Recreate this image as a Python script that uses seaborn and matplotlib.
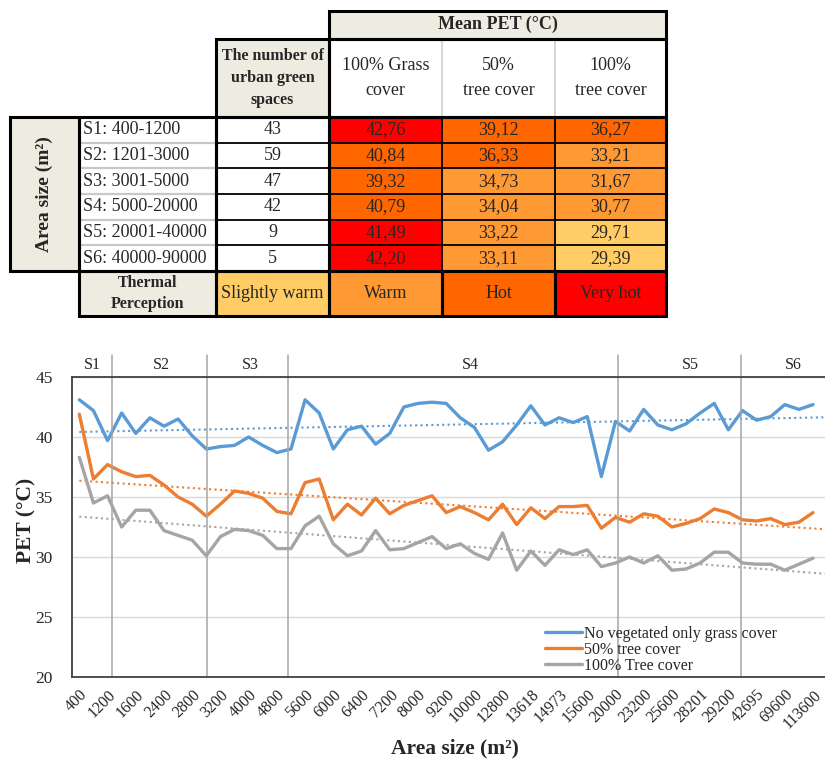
import numpy as np
import pandas as pd
import matplotlib
matplotlib.use('Agg')
import matplotlib.pyplot as plt
import matplotlib.transforms as mtransforms
from matplotlib.patches import Rectangle
import seaborn as sns

# ---- table data ----
size_classes = ["S1: 400-1200", "S2: 1201-3000", "S3: 3001-5000",
                "S4: 5000-20000", "S5: 20001-40000", "S6: 40000-90000"]
n_spaces = [43, 59, 47, 42, 9, 5]
pet_grass = [42.76, 40.84, 39.32, 40.79, 41.49, 42.20]
pet_tree50 = [39.12, 36.33, 34.73, 34.04, 33.22, 33.11]
pet_tree100 = [36.27, 33.21, 31.67, 30.77, 29.71, 29.39]
# thermal perception class of each cell (0 slightly warm .. 3 very hot)
lvl_grass = [3, 2, 2, 2, 3, 3]
lvl_tree50 = [2, 2, 1, 1, 1, 1]
lvl_tree100 = [2, 1, 1, 1, 0, 0]
perception = ["Slightly warm", "Warm", "Hot", "Very hot"]
perception_colors = ["#ffcc66", "#ff9933", "#ff6600", "#ff0000"]
col_headers = ["100% Grass\ncover", "50%\ntree cover", "100%\ntree cover"]

# ---- line chart data ----
tick_labels = ["400", "1200", "1600", "2400", "2800", "3200", "4000", "4800",
               "5600", "6000", "6400", "7200", "8000", "9200", "10000", "12800",
               "13618", "14973", "15600", "20000", "23200", "25600", "28201",
               "29200", "42695", "69600", "113600"]
pet_no_veg = [43.1, 42.2, 39.7, 42.0, 40.3, 41.6, 40.9, 41.5, 40.1, 39.0,
              39.2, 39.3, 40.0, 39.3, 38.7, 39.0, 43.1, 42.0, 39.0, 40.6,
              40.9, 39.4, 40.3, 42.5, 42.8, 42.9, 42.8, 41.6, 40.8, 38.9,
              39.6, 41.0, 42.6, 41.0, 41.6, 41.2, 41.7, 36.7, 41.3, 40.5,
              42.3, 41.0, 40.6, 41.1, 42.0, 42.8, 40.6, 42.2, 41.4, 41.7,
              42.7, 42.3, 42.7]
pet_50 = [41.9, 36.5, 37.7, 37.1, 36.7, 36.8, 36.0, 35.0, 34.4, 33.4,
          34.4, 35.5, 35.3, 34.9, 33.8, 33.6, 36.2, 36.5, 33.1, 34.4,
          33.5, 34.9, 33.6, 34.3, 34.7, 35.1, 33.7, 34.2, 33.7, 33.1,
          34.4, 32.7, 34.1, 33.2, 34.2, 34.2, 34.3, 32.4, 33.3, 32.9,
          33.6, 33.4, 32.5, 32.8, 33.2, 34.0, 33.7, 33.1, 33.0, 33.2,
          32.7, 32.9, 33.7]
pet_100 = [38.3, 34.5, 35.1, 32.5, 33.9, 33.9, 32.2, 31.8, 31.4, 30.1,
           31.7, 32.3, 32.2, 31.8, 30.7, 30.7, 32.6, 33.4, 31.1, 30.1,
           30.5, 32.2, 30.6, 30.7, 31.2, 31.7, 30.7, 31.1, 30.3, 29.8,
           32.0, 28.9, 30.5, 29.3, 30.6, 30.2, 30.6, 29.2, 29.5, 30.0,
           29.5, 30.1, 28.9, 29.0, 29.5, 30.4, 30.4, 29.5, 29.4, 29.4,
           28.9, 29.4, 29.9]
series_names = ["No vegetated only grass cover", "50% tree cover", "100% Tree cover"]
series_colors = ["#5b9bd5", "#ed7d31", "#a5a5a5"]
section_names = ["S1", "S2", "S3", "S4", "S5", "S6"]
section_label_x = [0.9, 5.8, 12.1, 27.7, 43.3, 50.6]
section_bounds = [2.3, 9.05, 14.8, 38.2, 46.9]

sns.set_style("white")
plt.rcParams['font.family'] = ['Liberation Serif', 'DejaVu Serif']

fig = plt.figure(figsize=(8.25, 7.6), dpi=100)

# ================= table (drawn in pixel coordinates) =================
tab = fig.add_axes([0, 0, 1, 1])
tab.set_xlim(0, 825)
tab.set_ylim(760, 0)
tab.axis('off')
tab.patch.set_visible(False)

beige = "#eeece1"
cx = [10, 79, 216, 329, 442, 555, 666]
ry = [11, 38.5, 117] + list(np.linspace(117, 271, 7)[1:]) + [316]


def cell(x0, x1, y0, y1, fc, txt="", **kw):
    tab.add_patch(Rectangle((x0, y0), x1 - x0, y1 - y0, facecolor=fc, edgecolor="none"))
    if txt:
        tab.text((x0 + x1) / 2, (y0 + y1) / 2, txt, ha="center", va="center", **kw)


def box(x0, x1, y0, y1, lw=2.2, color="black"):
    tab.add_patch(Rectangle((x0, y0), x1 - x0, y1 - y0, fill=False,
                            edgecolor=color, lw=lw, zorder=5))


def hline(x0, x1, y, color, lw):
    tab.plot([x0, x1], [y, y], color=color, lw=lw, zorder=4, solid_capstyle="butt")


def vline(x, y0, y1, color, lw):
    tab.plot([x, x], [y0, y1], color=color, lw=lw, zorder=4, solid_capstyle="butt")


# headers
cell(cx[3], cx[6], ry[0], ry[1], beige, "Mean PET (°C)", fontsize=13, fontweight="bold")
box(cx[3], cx[6], ry[0], ry[1])
cell(cx[2], cx[3], ry[1], ry[2], beige, "The number of\nurban green\nspaces",
     fontsize=11.5, fontweight="bold", linespacing=1.5)
box(cx[2], cx[3], ry[1], ry[2])
for j, h in enumerate(col_headers):
    cell(cx[3 + j], cx[4 + j], ry[1], ry[2], "white", h, fontsize=13, linespacing=1.65)
for j in (4, 5):
    vline(cx[j], ry[1], ry[2], "#cfcfcf", 1.2)
box(cx[3], cx[6], ry[1], ry[2])

# area-size label column
cell(cx[0], cx[1], ry[2], ry[8], beige)
tab.text((cx[0] + cx[1]) / 2, (ry[2] + ry[8]) / 2, "Area size (m²)", rotation=90,
         ha="center", va="center", fontsize=14, fontweight="bold")
box(cx[0], cx[1], ry[2], ry[8])

# data rows
cols = [pet_grass, pet_tree50, pet_tree100]
lvls = [lvl_grass, lvl_tree50, lvl_tree100]
for i in range(len(size_classes)):
    y0, y1 = ry[2 + i], ry[3 + i]
    cell(cx[1], cx[2], y0, y1, "white")
    tab.text(cx[1] + 4, (y0 + y1) / 2, size_classes[i], ha="left", va="center", fontsize=13)
    cell(cx[2], cx[3], y0, y1, "white", str(n_spaces[i]), fontsize=13)
    for j in range(3):
        cell(cx[3 + j], cx[4 + j], y0, y1, perception_colors[lvls[j][i]],
             f"{cols[j][i]:.2f}".replace(".", ","), fontsize=13)
    if i > 0:
        hline(cx[1], cx[2], y0, "#c8c8c8", 1.6)
        hline(cx[2], cx[6], y0, "black", 1.3)
for j in (4, 5):
    vline(cx[j], ry[2], ry[8], "black", 1.3)
box(cx[1], cx[2], ry[2], ry[8])
box(cx[2], cx[3], ry[2], ry[8])
box(cx[3], cx[6], ry[2], ry[8])

# thermal perception row
cell(cx[1], cx[2], ry[8], ry[9], beige, "Thermal\nPerception", fontsize=11.5,
     fontweight="bold", linespacing=1.4)
box(cx[1], cx[2], ry[8], ry[9])
for k, p in enumerate(perception):
    cell(cx[2 + k], cx[3 + k], ry[8], ry[9], perception_colors[k], p, fontsize=13)
    box(cx[2 + k], cx[3 + k], ry[8], ry[9])

# ================= line chart =================
W, H = 825, 760
ax = fig.add_axes([72 / W, (H - 677) / H, (825 - 72) / W, 300 / H])

x = np.arange(len(pet_no_veg))
df = pd.DataFrame({
    "idx": np.tile(x, 3),
    "PET": np.concatenate([pet_no_veg, pet_50, pet_100]),
    "series": np.repeat(series_names, len(x)),
})
sns.lineplot(data=df, x="idx", y="PET", hue="series", palette=series_colors,
             linewidth=2.4, ax=ax, legend=True)

# linear trend lines (dotted)
xt = np.array([0, 52.85])
for vals, c in zip([pet_no_veg, pet_50, pet_100], series_colors):
    k, b = np.polyfit(x, vals, 1)
    ax.plot(xt, k * xt + b, color=c, lw=1.5, ls=(0, (1, 1.6)), zorder=1)

ax.set_xlim(-0.52, 52.85)
ax.set_ylim(20, 45)
ax.set_yticks([20, 25, 30, 35, 40, 45])
ax.set_xticks(x[::2])
ax.set_xticklabels(tick_labels, rotation=45, ha="right", rotation_mode="anchor")
ax.tick_params(axis="y", length=0, pad=14, labelsize=12.5)
ax.tick_params(axis="x", length=0, pad=7, labelsize=11.5)
ax.yaxis.grid(True, color="#d9d9d9", lw=1)
ax.set_axisbelow(True)
for s in ["left", "bottom", "top"]:
    ax.spines[s].set_color("#404040")
    ax.spines[s].set_linewidth(1.3)
ax.spines["right"].set_visible(False)

ax.set_xlabel("Area size (m²)", fontsize=15.5, fontweight="bold")
ax.set_ylabel("PET (°C)", fontsize=15.5, fontweight="bold")
ax.xaxis.set_label_coords((455 - 72) / 753, -(738 - 677) / 300)
ax.yaxis.set_label_coords(-(72 - 36) / 753, (677 - 520) / 300)

# section separators and labels
trans = mtransforms.blended_transform_factory(ax.transData, ax.transAxes)
for sb in section_bounds:
    ax.axvline(sb, ymin=0, ymax=1.073, color="#a6a6a6", lw=1.1, clip_on=False)
for name, sx in zip(section_names, section_label_x):
    ax.text(sx, 1.04, name, transform=trans, ha="center", va="center", fontsize=11.5)

handles, labels = ax.get_legend_handles_labels()
ax.legend(handles, labels, loc="upper left", bbox_to_anchor=(545 / W, 1 - 626 / H),
          bbox_transform=fig.transFigure, frameon=False, fontsize=11.5,
          borderpad=0, borderaxespad=0, handlelength=2.3, handletextpad=0.15,
          labelspacing=0.0)

fig.savefig("out.png", dpi=100)
